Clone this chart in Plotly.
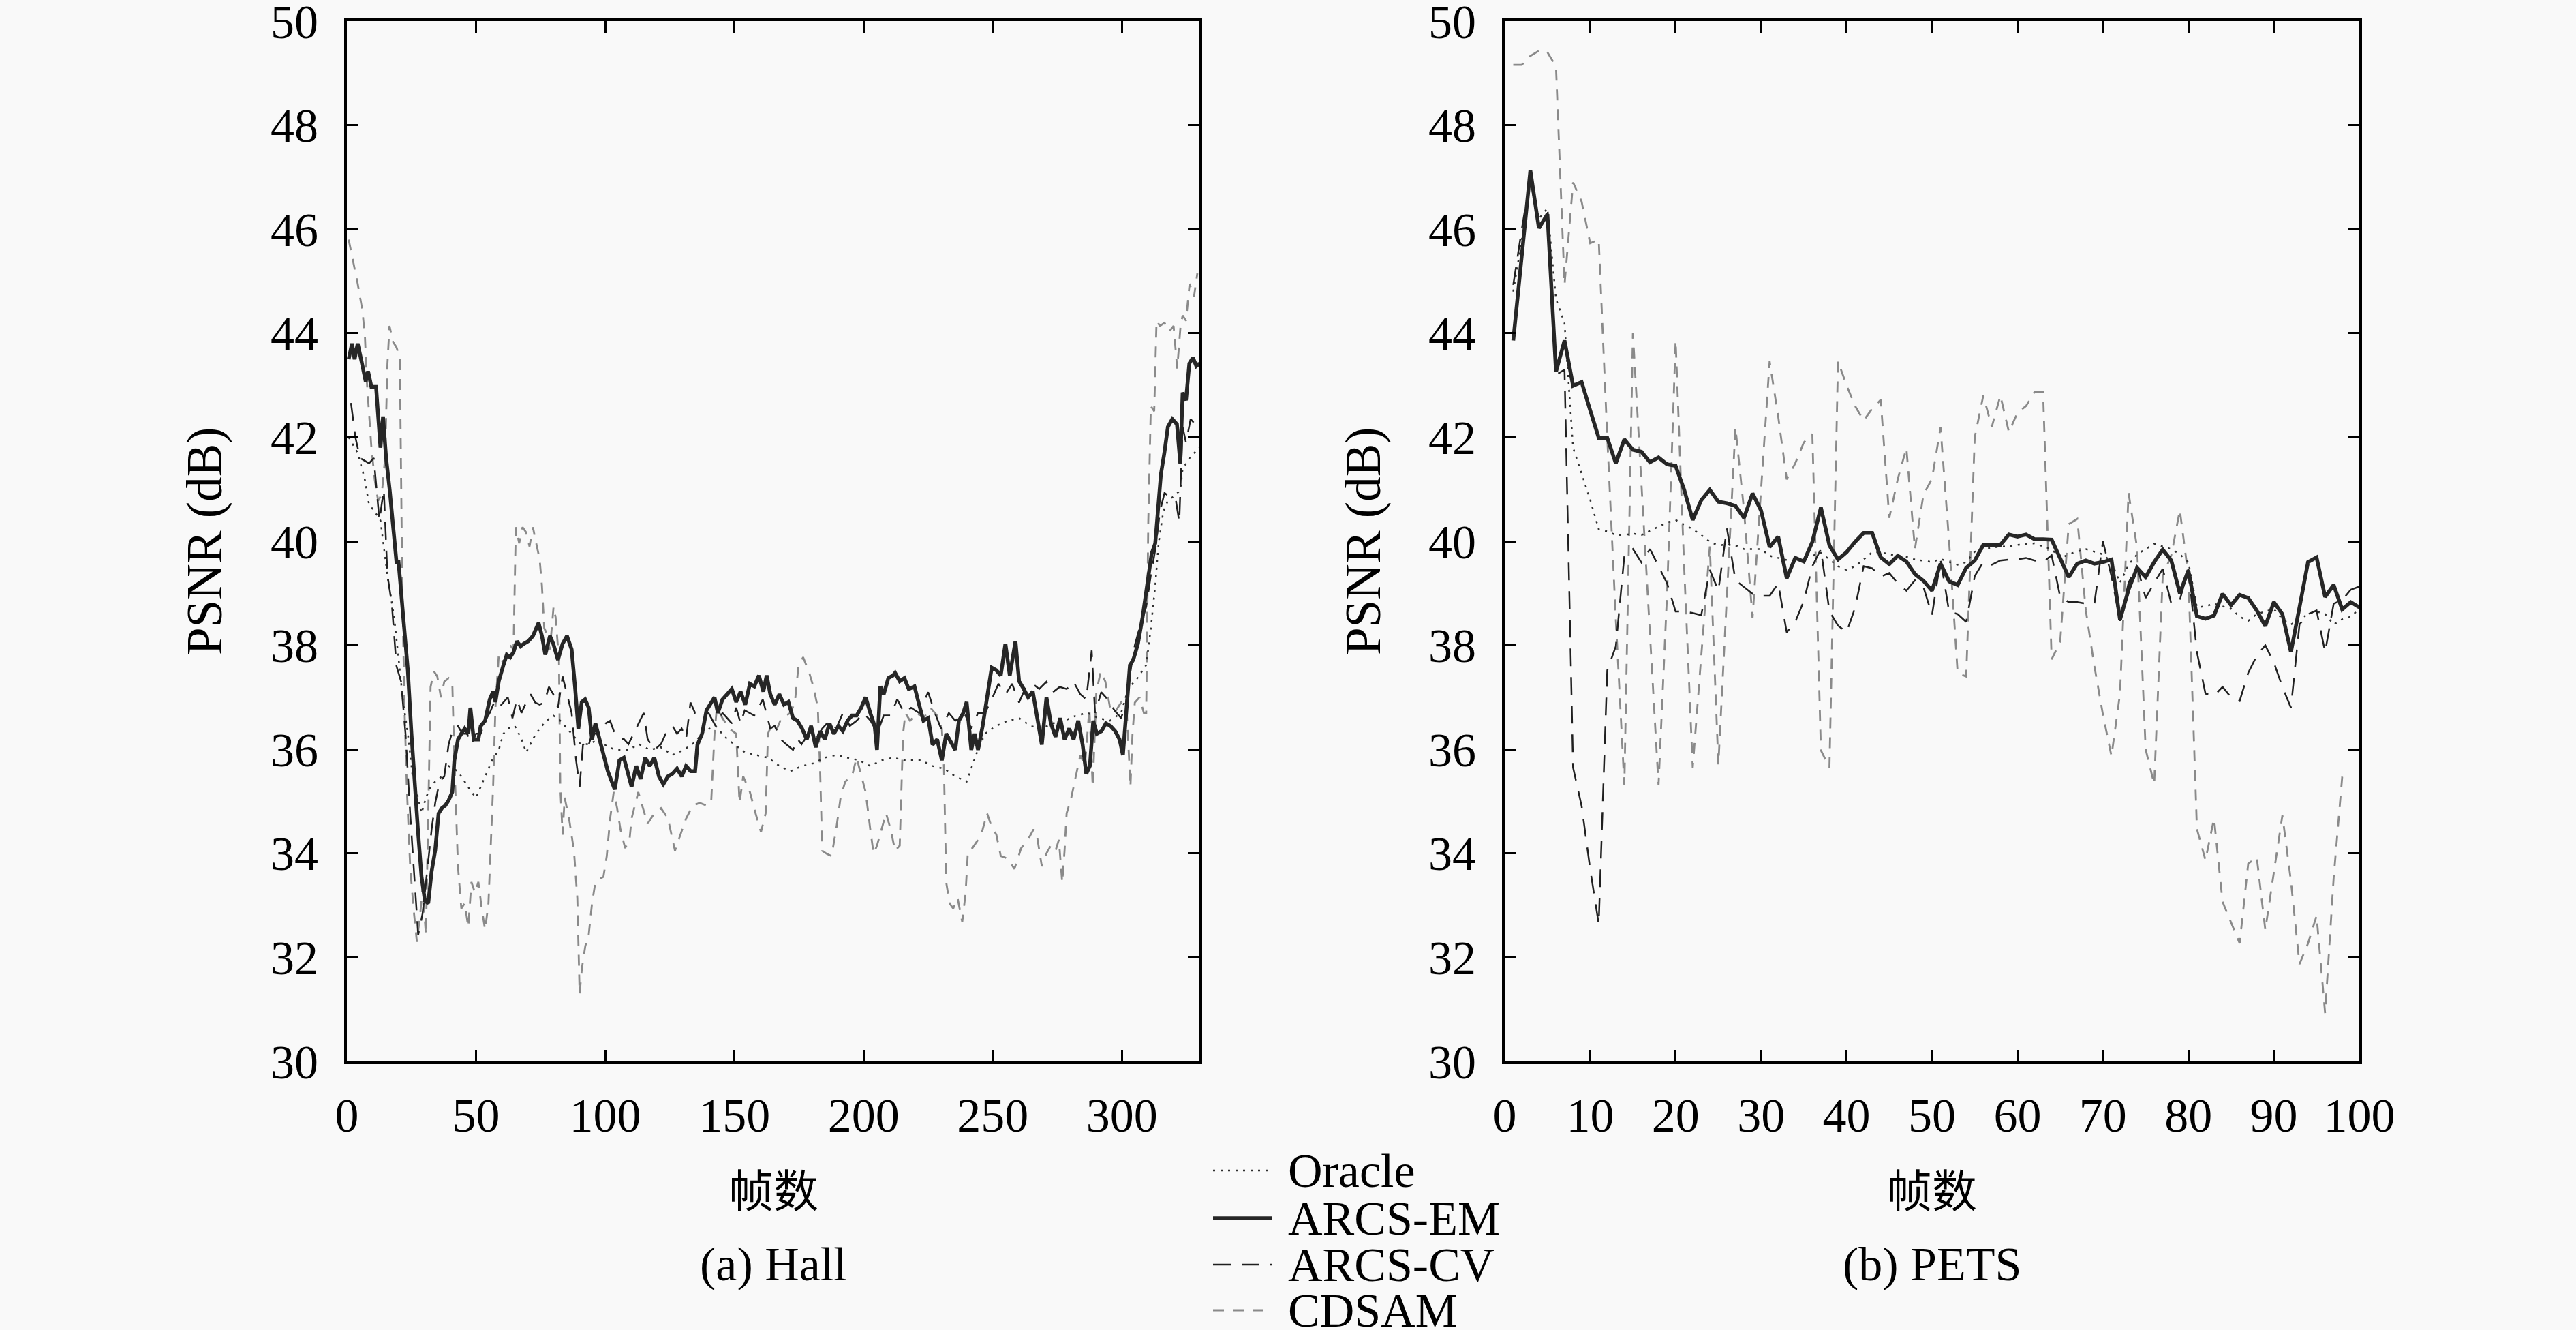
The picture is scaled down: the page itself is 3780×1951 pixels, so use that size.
import plotly.graph_objects as go

# ---- Hall sequence (frame, PSNR) ----
hall_oracle_f = [0.7, 4.2, 6.9, 8.6, 10.4, 13, 15.7, 18.3, 20.1, 21.8, 23.6, 25.4, 27.1, 28.9, 30.6, 32.4, 34.2,
                 36.8, 39.4, 43, 45.6, 48.2, 50, 51.8, 53.5, 56.2, 58.8, 60.6, 62.3, 65, 67.6, 69.4, 72, 74.6, 77.3,
                 79.9, 82.6, 85.2, 87.9, 90.5, 94, 97.5, 101, 104.6, 109, 113, 117.2, 121.6, 126, 130.4, 134.8,
                 138.3, 142.7, 146.3, 149.8, 154.2, 158.6, 163, 167.4, 171.7, 176.2, 180.6, 185, 189.4, 193.8,
                 198.2, 202.6, 206.9, 211.4, 215.8, 222.3, 226.7, 231.1, 235.5, 239.9, 243.5, 247, 251.4, 255.8,
                 260.2, 264.6, 269, 273.3, 277.8, 282.2, 286.6, 291, 295.4, 299.7, 302.4, 306, 309.4, 311.2, 312.9,
                 314.2, 316, 317.8, 320.4, 322.6, 323.5, 326.2, 328.9, 330]
hall_oracle_v = [42.0, 41.7, 41.2, 40.7, 40.6, 40.4, 39.35, 38.54, 37.7, 36.9, 36.3, 35.5, 35.18, 34.77, 35.07, 35.28,
                 35.38, 35.48, 35.68, 35.58, 35.38, 35.18, 35.07, 35.28, 35.48, 35.79, 35.99, 36.3, 36.4, 36.45,
                 36.2, 35.94, 36.2, 36.4, 36.55, 36.65, 36.55, 36.4, 36.24, 36.1, 36.1, 36.2, 36.04, 35.99, 35.99,
                 36.1, 35.99, 36.04, 35.89, 35.99, 36.14, 36.35, 36.45, 36.24, 36.1, 35.94, 35.89, 35.84, 35.68,
                 35.58, 35.68, 35.73, 35.84, 35.89, 35.84, 35.79, 35.68, 35.79, 35.84, 35.79, 35.79, 35.68, 35.63,
                 35.48, 35.38, 35.89, 36.3, 36.45, 36.55, 36.6, 36.45, 36.4, 36.5, 36.55, 36.65, 36.7, 36.6, 36.55,
                 36.7, 37.16, 37.37, 37.62, 38.33, 39.15, 39.96, 40.57, 40.78, 40.88, 40.98, 41.39, 41.6, 41.74, 41.8]

hall_em_f = [0.7, 2, 3, 4.2, 5.5, 7.3, 8.2, 9.5, 11.3, 13, 14, 15.2, 16.6, 17.9, 19.2, 20, 21.8, 23.6, 25, 26.2,
             27.5, 28.9, 30.2, 31.5, 32.8, 34.2, 35.5, 36.8, 38.1, 39.4, 40.8, 41.6, 43, 44.3, 45.6, 47, 47.8,
             49.1, 50.9, 51.8, 53.5, 55.3, 56.6, 57.5, 58.8, 60.6, 61.9, 63.2, 64.5, 65.8, 67.2, 68.5, 70.2, 72,
             74.2, 75.5, 76.8, 78.6, 79.9, 81.7, 83.5, 85.2, 87, 88.3, 89.6, 90.9, 92.2, 93.6, 94.9, 96.2, 97.5,
             99.3, 101, 103.7, 105.5, 107.2, 109, 110.2, 112, 113.7, 115.5, 117.2, 119, 120.8, 122.5, 124.3, 126,
             127.8, 129.6, 131.3, 133.1, 134.8, 135.7, 137.5, 139.2, 141, 142.3, 143.6, 145.4, 147.2, 149, 150.7,
             152.4, 154.2, 156, 157.7, 159.5, 161.2, 162.5, 163.9, 165.6, 167.4, 169.2, 170.9, 172.7, 174.4, 176.2,
             178, 179.7, 181.5, 183.2, 185, 186.8, 188.5, 190.3, 192, 193.8, 195.5, 197.3, 199.1, 200.8, 202.6,
             204.3, 205.2, 206.5, 207.8, 209.6, 211.4, 212.2, 214, 215.8, 217.5, 219.7, 221.5, 223.2, 225, 226.7,
             228.5, 230.3, 232, 233.8, 235.5, 236.9, 238.6, 239.9, 241.7, 243, 244.3, 246.1, 247.8, 249.6, 251.4,
             253.1, 254.9, 256.6, 258.8, 260.2, 262, 263.7, 265.5, 267.3, 269, 270.8, 272.5, 274.3, 276.1, 277.8,
             279.6, 281.3, 283.1, 284.8, 286.2, 287.6, 288.9, 290.3, 292.1, 293.8, 295.6, 297.4, 299.1, 300.4,
             301.8, 303.1, 304.4, 306.2, 308, 308.9, 310.2, 311.5, 312.9, 313.8, 315.1, 316.4, 317.8, 319.5, 321.3,
             322.6, 323.5, 324.8, 326.1, 327.5, 328.8, 330]
hall_em_v = [43.5, 43.8, 43.5, 43.8, 43.5, 43.07, 43.27, 42.97, 42.97, 41.8, 42.4, 41.6, 40.98, 40.37, 39.6, 39.6,
             38.64, 37.52, 36.3, 35.28, 34.46, 33.55, 33.09, 33.04, 33.65, 34.06, 34.77, 34.87, 34.92, 35.02, 35.18,
             35.79, 36.19, 36.3, 36.4, 36.3, 36.8, 36.19, 36.19, 36.45, 36.55, 36.96, 37.11, 36.91, 37.31, 37.62,
             37.82, 37.77, 37.87, 38.08, 37.98, 38.03, 38.08, 38.18, 38.43, 38.18, 37.82, 38.18, 38.03, 37.72,
             38.03, 38.18, 37.92, 37.21, 36.4, 36.91, 36.96, 36.8, 36.19, 36.5, 36.24, 35.94, 35.58, 35.23, 35.79,
             35.84, 35.53, 35.28, 35.68, 35.43, 35.84, 35.68, 35.84, 35.48, 35.33, 35.48, 35.53, 35.63, 35.48,
             35.68, 35.58, 35.58, 36.09, 36.3, 36.75, 36.91, 37.0, 36.7, 36.96, 37.06, 37.16, 36.91, 37.11, 36.86,
             37.26, 37.21, 37.42, 37.11, 37.42, 37.06, 36.86, 37.06, 36.86, 36.91, 36.6, 36.55, 36.4, 36.19, 36.45,
             36.04, 36.35, 36.19, 36.5, 36.3, 36.45, 36.35, 36.55, 36.65, 36.65, 36.8, 37.0, 36.7, 36.45, 35.99,
             37.21, 37.06, 37.37, 37.42, 37.47, 37.31, 37.37, 37.16, 37.21, 36.86, 36.55, 36.6, 36.09, 36.19, 35.79,
             36.3, 36.14, 35.99, 36.55, 36.7, 36.91, 35.99, 36.3, 35.99, 36.45, 36.96, 37.57, 37.52, 37.42, 38.03,
             37.42, 38.08, 37.31, 37.16, 37.0, 37.11, 36.55, 36.09, 37.0, 36.5, 36.24, 36.6, 36.19, 36.4, 36.19,
             36.55, 36.09, 35.53, 35.68, 36.55, 36.3, 36.35, 36.5, 36.45, 36.35, 36.19, 35.89, 36.91, 37.62, 37.72,
             38.03, 38.54, 38.89, 39.35, 39.76, 39.96, 40.57, 41.29, 41.69, 42.2, 42.35, 42.25, 41.49, 42.86, 42.71,
             43.42, 43.53, 43.37, 43.42]

hall_cv_f = [1.6, 3.3, 5.1, 8.6, 10.4, 12.6, 14.3, 15.7, 17.4, 19.2, 21, 22.7, 24.5, 26.2, 27.6, 29.3, 30.6, 32.8,
             34.2, 35.9, 37.7, 39.4, 41.2, 43, 44.7, 46.5, 48.2, 50, 51.8, 53.5, 55.3, 57, 58.8, 60.6, 62.3, 64.1,
             65.8, 67.6, 69.4, 71.1, 72.9, 74.6, 76.4, 78.2, 79.9, 81.7, 83.5, 85.2, 87, 88.7, 90.1, 91.4, 93.1,
             94.9, 96.7, 98.4, 100.2, 101.9, 103.7, 105.5, 107.2, 109, 111.9, 114.9, 116.4, 119, 121.6, 123.4, 126,
             127.8, 129.6, 131.3, 133, 134.8, 137.5, 140, 142.7, 145.4, 147.2, 149, 150.7, 152.4, 154, 156, 157.7,
             161, 163.9, 165.6, 168, 170, 172.7, 174.4, 176, 178.8, 181.5, 184, 186.8, 189.4, 192, 194.7, 197.3,
             200, 202.7, 204.4, 205.2, 207.8, 210.5, 213, 215.8, 218.4, 221.5, 225, 227.6, 230, 233, 235.5, 239,
             241.7, 244.3, 247, 249.6, 252.2, 255, 257.5, 260.2, 262.8, 265.5, 268, 270.8, 273.3, 275.9, 278.6,
             281.3, 283.9, 286.2, 288.3, 289.6, 292, 294.5, 297.1, 299.7, 301.6, 303.3, 305, 306.8, 309.4, 311.2,
             313, 314.7, 316.5, 319.1, 320.9, 322.2, 323.5, 324.8, 326.6, 328.3, 330]
hall_cv_v = [42.66, 42.0, 41.6, 41.5, 41.6, 40.4, 41.0, 39.35, 38.8, 37.6, 37.3, 36.3, 34.77, 33.44, 32.43, 32.84,
             33.45, 34.46, 34.97, 35.38, 35.48, 36.1, 36.4, 36.45, 36.3, 36.3, 36.1, 36.3, 36.3, 36.55, 36.7, 36.9,
             36.8, 36.9, 37.0, 36.6, 36.96, 36.7, 36.9, 37.06, 36.9, 36.86, 36.9, 37.2, 37.06, 36.8, 37.4, 37.06,
             36.7, 35.8, 35.28, 36.1, 36.0, 36.3, 36.3, 36.4, 36.5, 36.55, 36.3, 36.2, 36.2, 36.1, 36.4, 36.7, 36.2,
             35.99, 36.1, 36.3, 36.45, 36.3, 36.4, 36.2, 36.9, 36.7, 36.7, 36.7, 36.45, 36.7, 36.6, 36.5, 36.8,
             36.5, 36.75, 36.7, 36.65, 36.96, 36.4, 36.45, 36.19, 36.1, 35.99, 36.2, 36.1, 36.3, 36.2, 36.4, 36.55,
             36.4, 36.7, 36.45, 36.55, 36.7, 36.55, 36.4, 36.3, 36.65, 36.65, 36.96, 36.7, 36.8, 36.7, 37.1, 36.7,
             36.4, 36.7, 36.55, 36.7, 36.4, 36.7, 36.7, 36.96, 37.26, 37.06, 37.26, 36.9, 37.2, 37.26, 37.16, 37.3,
             37.1, 37.2, 37.16, 37.3, 37.06, 36.96, 37.9, 36.7, 37.1, 36.96, 36.75, 36.6, 36.9, 37.5, 38.0, 38.33,
             38.74, 39.35, 39.86, 40.57, 40.93, 40.83, 40.78, 40.37, 42.2, 41.9, 42.35, 42.25, 42.3]

hall_cd_f = [0.7, 2.5, 4.2, 6, 7, 7.7, 8.6, 9.5, 10.8, 12.1, 13.5, 14.8, 15.7, 16.5, 17.9, 19.2, 20.5, 21, 21.4, 22.3,
             23.2, 24.5, 25.8, 27.1, 28.4, 29.3, 30.6, 31.5, 32.4, 33.7, 35, 36.4, 37.7, 39.4, 40.8, 41.6, 43, 44.3,
             45.6, 47, 48.2, 49.6, 50.9, 52.2, 53.5, 54.8, 55.7, 56.6, 57.5, 58.8, 60.1, 61.4, 63.2, 64.5, 65.4,
             66.7, 68, 69.4, 70.7, 72, 73.3, 74.6, 75.5, 76.4, 77.3, 78.6, 80, 80.8, 82.1, 82.6, 83.5, 84.3, 86,
             87.9, 89.2, 90.1, 91, 92.3, 93.6, 94.9, 96.2, 97.5, 99.3, 100.6, 101.9, 103.3, 104.6, 105.9, 107.7,
             109.4, 110.2, 112.8, 114.6, 116.4, 119, 121.6, 124.3, 127, 128.7, 131.3, 133.9, 136.6, 139.2, 141,
             142.3, 143.2, 145.4, 148, 150.7, 152, 153.4, 156, 158.2, 160.3, 162.1, 163, 164.7, 166.5, 168.2, 171.7,
             173.4, 174.8, 176.6, 178.8, 180.6, 182.3, 183.2, 184, 185.8, 187.6, 189.4, 191.1, 192.9, 195.5, 197.3,
             199.1, 200.8, 202.6, 203.9, 205.2, 206.9, 208.7, 210.5, 212.2, 214, 215.3, 216.2, 218, 220.6, 223.2,
             225.9, 228.5, 230.3, 231.1, 232, 233.3, 234.7, 236.4, 238.2, 239.5, 240.4, 242.1, 244.3, 246.1, 247.8,
             249.6, 251.4, 253.1, 255.8, 258.4, 261, 263.6, 265.8, 267.2, 269, 270.8, 272.5, 274.3, 275.6, 276.9,
             277.8, 278.6, 280.4, 282.2, 283.9, 285.7, 287.4, 288.7, 290.1, 291.8, 293.6, 295.4, 297.1, 299.7,
             301.9, 303.3, 304.1, 305, 306.8, 308.5, 309.4, 310.2, 311.2, 312.5, 313.4, 314.7, 316.5, 318.3, 320,
             321.4, 322.7, 323.5, 324.8, 326.2, 327.9, 329.2]
hall_cd_v = [45.8, 45.36, 44.95, 44.44, 43.93, 43.1, 42.4, 41.8, 41.18, 40.78, 40.9, 41.6, 43.4, 44.14, 43.83, 43.73,
             43.53, 41.4, 39.35, 36.8, 35.28, 33.75, 32.94, 32.3, 32.83, 33.35, 32.43, 34.77, 37.2, 37.5, 37.4, 37.0,
             37.3, 37.37, 37.3, 35.8, 33.75, 32.94, 33.04, 32.58, 33.45, 33.24, 33.45, 32.94, 32.53, 33.04, 34.26,
             35.28, 36.8, 37.82, 37.7, 37.7, 38.0, 37.92, 40.27, 39.96, 40.27, 40.17, 39.9, 40.27, 39.96, 39.66,
             39.15, 38.33, 38.23, 37.92, 38.74, 38.54, 37.72, 35.28, 34.36, 35.07, 34.67, 34.05, 33.14, 31.3, 31.8,
             32.22, 32.43, 33.04, 33.45, 33.5, 33.55, 33.95, 34.67, 35.18, 34.87, 34.46, 34.1, 34.26, 34.67, 35.18,
             34.87, 34.57, 34.77, 34.87, 34.67, 34.05, 34.3, 34.67, 34.92, 34.97, 34.92, 34.97, 36.3, 36.8, 36.6,
             36.4, 36.3, 34.97, 35.48, 35.18, 34.77, 34.41, 34.77, 36.3, 36.5, 36.4, 36.6, 36.7, 36.9, 37.6, 37.77,
             37.5, 37.2, 36.8, 35.58, 34.05, 33.99, 33.95, 34.46, 35.07, 35.38, 35.48, 35.84, 35.48, 35.18, 34.46,
             33.99, 34.15, 34.46, 34.77, 34.46, 34.05, 34.15, 36.3, 36.7, 36.55, 36.7, 36.6, 36.8, 36.65, 36.4,
             35.68, 33.44, 33.04, 32.94, 33.14, 32.68, 33.24, 34.05, 34.1, 34.26, 34.46, 34.77, 34.51, 34.36, 33.95,
             33.9, 33.7, 34.1, 34.26, 34.46, 34.31, 33.75, 34.0, 34.15, 34.05, 34.26, 33.44, 34.05, 34.77, 35.07,
             35.48, 35.89, 35.68, 36.8, 35.28, 37.1, 37.5, 37.3, 36.8, 36.7, 36.9, 36.7, 35.28, 36.3, 36.9, 37.0,
             36.7, 36.7, 40.37, 42.6, 42.5, 44.24, 44.14, 44.2, 44.03, 44.14, 43.32, 44.14, 44.34, 44.24, 44.95,
             44.7, 45.15]

# ---- PETS sequence, one value per frame ----
pets_frames = list(range(1, 101))
pets_oracle = [44.8, 45.8, 46.9, 46.2, 46.4, 44.66, 44.19, 41.8, 41.3, 40.8,
               40.23, 40.19, 40.12, 40.12, 40.15, 40.12, 40.2, 40.28, 40.36, 40.41,
               40.32, 40.23, 40.12, 39.99, 39.92, 39.94, 39.92, 39.85, 39.85, 39.85,
               39.72, 39.68, 39.63, 39.6, 39.68, 39.72, 39.78, 39.65, 39.52, 39.45,
               39.52, 39.65, 39.79, 39.79, 39.75, 39.72, 39.7, 39.65, 39.62, 39.6,
               39.66, 39.6, 39.55, 39.6, 39.8, 39.85, 39.88, 39.9, 39.9, 39.93,
               39.95, 39.96, 39.9, 39.85, 39.67, 39.75, 39.8, 39.85, 39.8, 39.75,
               39.6, 39.2, 39.55, 39.75, 39.85, 39.95, 39.9, 39.85, 39.75, 39.6,
               38.73, 38.75, 38.8, 38.75, 38.7, 38.55, 38.47, 38.6, 38.65, 38.7,
               38.5, 38.4, 38.5, 38.6, 38.65, 38.6, 38.4, 38.5, 38.55, 38.7]
pets_em = [43.86, 45.5, 47.13, 46.02, 46.29, 43.26, 43.86, 42.99, 43.06, 42.52,
           41.99, 41.99, 41.50, 41.96, 41.76, 41.72, 41.52, 41.61, 41.48, 41.45,
           40.99, 40.41, 40.79, 40.99, 40.76, 40.73, 40.68, 40.45, 40.92, 40.59,
           39.89, 40.09, 39.29, 39.68, 39.61, 39.99, 40.65, 39.92, 39.65, 39.79,
           39.99, 40.16, 40.16, 39.69, 39.56, 39.72, 39.61, 39.37, 39.24, 39.05,
           39.57, 39.23, 39.16, 39.49, 39.63, 39.93, 39.93, 39.93, 40.13, 40.09,
           40.13, 40.04, 40.04, 40.03, 39.67, 39.31, 39.57, 39.63, 39.57, 39.6,
           39.65, 38.49, 39.07, 39.49, 39.31, 39.6, 39.84, 39.63, 39.0, 39.44,
           38.56, 38.51, 38.57, 38.99, 38.77, 38.97, 38.91, 38.67, 38.37, 38.83,
           38.6, 37.87, 38.73, 39.6, 39.69, 38.93, 39.16, 38.69, 38.83, 38.73]
pets_cv = [44.93, 46.0, 47.0, 46.0, 46.3, 43.2, 43.3, 35.65, 34.91, 33.7,
           32.64, 37.52, 37.98, 39.72, 39.85, 39.59, 39.85, 39.52, 39.19, 38.65,
           38.65, 38.62, 38.58, 39.45, 39.05, 40.25, 39.25, 39.12, 38.99, 38.95,
           38.95, 39.19, 38.25, 38.45, 38.85, 39.52, 39.85, 38.65, 38.38, 38.25,
           38.72, 39.52, 39.48, 39.32, 39.39, 39.19, 39.05, 39.25, 39.12, 38.58,
           39.65, 38.65, 38.6, 38.45, 39.33, 39.6, 39.55, 39.63, 39.65, 39.65,
           39.68, 39.63, 39.6, 39.73, 38.93, 38.83, 38.83, 38.8, 38.8, 40.0,
           39.33, 38.47, 39.2, 39.53, 38.91, 39.2, 39.47, 38.8, 38.87, 39.47,
           37.87, 37.07, 37.03, 37.2, 37.0, 36.93, 37.47, 37.8, 38.0, 37.67,
           37.2, 36.8, 38.4, 38.6, 38.67, 37.87, 38.8, 38.87, 39.07, 39.13]
pets_cd = [49.16, 49.16, 49.33, 49.43, 49.4, 49.13, 44.93, 46.9, 46.53, 45.73,
           45.8, 42.0, 38.5, 35.31, 44.0, 41.1, 38.2, 35.31, 39.0, 43.86,
           39.5, 35.65, 37.8, 39.9, 35.71, 38.9, 42.19, 40.6, 38.52, 41.0,
           43.46, 42.4, 41.19, 41.5, 41.9, 42.06, 35.98, 35.65, 43.46, 43.0,
           42.6, 42.32, 42.55, 42.72, 40.45, 41.2, 41.79, 39.85, 40.9, 41.2,
           42.19, 40.0, 37.47, 37.4, 42.0, 42.8, 42.2, 42.8, 42.1, 42.47,
           42.6, 42.87, 42.87, 37.73, 38.07, 40.33, 40.43, 38.67, 37.6, 36.67,
           35.87, 37.07, 40.93, 39.87, 36.0, 35.33, 39.33, 39.73, 40.6, 39.33,
           34.47, 33.87, 34.67, 33.07, 32.67, 32.27, 33.8, 33.93, 32.53, 33.6,
           34.73, 33.47, 31.87, 32.27, 32.8, 30.93, 33.53, 35.47, 35.53]

names = ["Oracle", "ARCS-EM", "ARCS-CV", "CDSAM"]
styles = {
    "Oracle": dict(color="#303030", width=2.5, dash="3px,8px"),
    "ARCS-EM": dict(color="#262626", width=5.5),
    "ARCS-CV": dict(color="#202020", width=2.5, dash="26px,16px"),
    "CDSAM": dict(color="#8a8a8a", width=2.8, dash="16px,13px"),
}

W, H = 3780, 1951
FONT = "Liberation Serif, Noto Sans CJK SC, serif"
BG = "#f9f9f9"

fig = go.Figure()

hall = {"Oracle": (hall_oracle_f, hall_oracle_v), "ARCS-EM": (hall_em_f, hall_em_v),
        "ARCS-CV": (hall_cv_f, hall_cv_v), "CDSAM": (hall_cd_f, hall_cd_v)}
pets = {"Oracle": pets_oracle, "ARCS-EM": pets_em, "ARCS-CV": pets_cv, "CDSAM": pets_cd}

# draw order: CDSAM at the back, ARCS-EM on top
for nm in ["CDSAM", "Oracle", "ARCS-CV", "ARCS-EM"]:
    fx, fy = hall[nm]
    fig.add_trace(go.Scatter(x=fx, y=fy, mode="lines", line=styles[nm], name=nm,
                             showlegend=False, xaxis="x", yaxis="y"))
    fig.add_trace(go.Scatter(x=pets_frames[:len(pets[nm])], y=pets[nm], mode="lines",
                             line=styles[nm], name=nm, showlegend=False, xaxis="x2", yaxis="y2"))

axis_common = dict(showgrid=False, zeroline=False, showline=True, linecolor="black", linewidth=4,
                   mirror="ticks", ticks="inside", ticklen=17, tickwidth=3, tickcolor="black",
                   ticklabeloverflow="allow", automargin=False,
                   tickfont=dict(family=FONT, size=70, color="black"))

# pixel frame of each panel
left_px = (509, 1760)
right_px = (2208, 3462)
top_px, bot_px = 31, 1557

fig.update_layout(
    autosize=True,
    margin=dict(l=0, r=0, t=0, b=0),
    paper_bgcolor=BG, plot_bgcolor=BG,
    showlegend=False,
    xaxis=dict(domain=[left_px[0] / W, left_px[1] / W], range=[0, 330], dtick=50, tick0=0,
               anchor="y", ticklabelstandoff=15, **axis_common),
    yaxis=dict(domain=[1 - bot_px / H, 1 - top_px / H], range=[30, 50], dtick=2,
               anchor="x", ticklabelstandoff=24, **axis_common),
    xaxis2=dict(domain=[right_px[0] / W, right_px[1] / W], range=[0, 100], dtick=10, tick0=0,
                anchor="y2", ticklabelstandoff=15, **axis_common),
    yaxis2=dict(domain=[1 - bot_px / H, 1 - top_px / H], range=[30, 50], dtick=2,
                anchor="x2", ticklabelstandoff=24, **axis_common),
)

txt = dict(family=FONT, size=70, color="black")
ann = []
for cx, ylab_x, sub in [((left_px[0] + left_px[1]) / 2, 300, "(a) Hall"),
                        ((right_px[0] + right_px[1]) / 2, 2000, "(b) PETS")]:
    ann.append(dict(x=ylab_x / W, y=1 - (top_px + bot_px) / 2 / H, text="PSNR (dB)", textangle=-90,
                    showarrow=False, xref="paper", yref="paper", xanchor="center", yanchor="middle",
                    font=dict(family=FONT, size=73, color="black")))
    ann.append(dict(x=cx / W, y=1 - 1742 / H, text="帧数", showarrow=False, xref="paper", yref="paper",
                    xanchor="center", yanchor="middle",
                    font=dict(family="Noto Sans CJK SC", size=66, color="black")))
    ann.append(dict(x=cx / W, y=1 - 1854 / H, text=sub, showarrow=False, xref="paper", yref="paper",
                    xanchor="center", yanchor="middle", font=txt))

# legend key below the middle, between the two panels
rows_px = [1717, 1787, 1855, 1922]
shapes = []
for nm, ry in zip(names, rows_px):
    shapes.append(dict(type="line", xref="paper", yref="paper", x0=1780 / W, x1=1866 / W,
                       y0=1 - ry / H, y1=1 - ry / H, line=styles[nm]))
    ann.append(dict(x=1888 / W, y=1 - ry / H, text=nm, showarrow=False, xref="paper", yref="paper",
                    xanchor="left", yanchor="middle", font=txt))

fig.update_layout(annotations=ann, shapes=shapes)

fig.write_html(
    "out.html",
    config={"displayModeBar": False, "responsive": True},
    default_width="100vw",
    default_height="100vh",
    post_script="document.body.style.margin='0';document.body.style.overflow='hidden';"
                "Plotly.Plots.resize(document.getElementById('{plot_id}'));",
)
